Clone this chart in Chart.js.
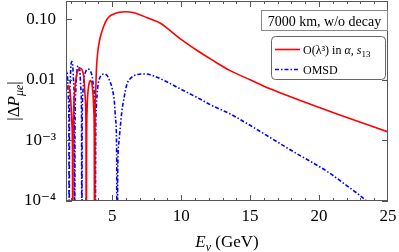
<!DOCTYPE html>
<html>
<head>
<meta charset="utf-8">
<script src="https://cdn.jsdelivr.net/npm/chart.js@4"></script>
<style>
  html, body { margin: 0; padding: 0; background: #fff; }
  canvas { display: block; }
</style>
</head>
<body>
<canvas id="myChart" width="399" height="252"></canvas>
<script>
// datos
const energyRed = [1.65, 1.7, 1.8, 1.9, 2.0, 2.08, 2.12, 2.14, 2.16, 2.2, 2.3, 2.45, 2.6, 2.7, 2.8, 2.95, 3.05, 3.1, 3.12,
  3.14, 3.18, 3.25, 3.35, 3.43, 3.52, 3.6, 3.67, 3.7, 3.72, 3.75, 3.8, 3.85, 3.92, 4.0, 4.15, 4.37, 4.6, 4.86, 5.0, 5.5,
  6.0, 6.5, 7.0, 7.5, 8.0, 8.5, 9.0, 10.0, 11.16, 12.3, 13.55, 15, 16.45, 18.5, 21.5, 25]
const valueRed = [0.006, 0.0075, 0.008, 0.0072, 0.0045, 0.0018, 0.0006, 1e-6, 0.0005, 0.0028, 0.0075, 0.0128, 0.0152, 0.0155,
  0.0148, 0.0108, 0.0048, 0.0014, 1e-6, 0.0005, 0.0032, 0.0066, 0.0092, 0.0097, 0.0088, 0.0062, 0.003, 0.001, 1e-6, 0.0015,
  0.006, 0.014, 0.024, 0.035, 0.052, 0.075, 0.098, 0.114, 0.119, 0.130, 0.133, 0.129, 0.119, 0.107, 0.0966, 0.0857, 0.0708,
  0.0465, 0.0305, 0.0209, 0.0142, 0.0100, 0.0071, 0.00468, 0.00263, 0.00138]

const energyBlue = [1.65, 1.7, 1.76, 1.82, 1.86, 1.88, 1.9, 1.94, 2.0, 2.07, 2.14, 2.2, 2.25, 2.28, 2.3, 2.35, 2.43, 2.54,
  2.65, 2.73, 2.78, 2.8, 2.82, 2.87, 2.97, 3.1, 3.26, 3.42, 3.56, 3.66, 3.73, 3.77, 3.8, 3.85, 3.95, 4.1, 4.3, 4.45, 4.65,
  4.86, 5.0, 5.15, 5.25, 5.32, 5.36, 5.4, 5.48, 5.58, 5.7, 5.82, 6.07, 6.3, 6.79, 7.39, 7.97, 8.7, 9.93, 11.16, 12.3, 13.55,
  14.78, 15.72, 18.1, 20.56, 22, 23.46, 24, 24.3, 24.6, 25]
const valueBlue = [0.012, 0.014, 0.011, 0.005, 0.0015, 1e-6, 0.0015, 0.007, 0.016, 0.02, 0.017, 0.0095, 0.003, 1e-6, 0.0012,
  0.006, 0.013, 0.017, 0.0142, 0.007, 0.002, 1e-6, 0.0015, 0.006, 0.011, 0.014, 0.015, 0.014, 0.011, 0.007, 0.003, 1e-6,
  0.0008, 0.0035, 0.0075, 0.0108, 0.0123, 0.0125, 0.0116, 0.0091, 0.0072, 0.0045, 0.0022, 0.0007, 1e-6, 0.0003, 0.0009,
  0.0016, 0.003, 0.0045, 0.0085, 0.0104, 0.0122, 0.0125, 0.0117, 0.0099, 0.0071, 0.0051, 0.0037, 0.00274, 0.0019, 0.00141,
  0.00066, 0.00031, 0.00018, 0.0001, 0.00005, 1e-6, 0.00001, 0.00003]

const seriesLabels = ["O(λ³) in α, s₁₃", "OMSD"]
const xTicks = [5, 10, 15, 20, 25]
const yTicks = [0.0001, 0.001, 0.01, 0.1]
const yTickLabels = ["10⁻⁴", "10⁻³", "0.01", "0.10"]
const boxText = "7000 km, w/o decay"

const miGraf = document.querySelector("#myChart")
const serif = "'Liberation Serif', 'DejaVu Serif', serif"

function puntos(ex, vals) {
  return ex.map((e, i) => ({ x: e, y: vals[i] }))
}

// dibuja marco, ticks interiores, titulos, recuadro y leyenda
const marco = {
  id: "marco",
  afterDraw(chart) {
    const { ctx, chartArea: a, scales } = chart
    const x = scales.x
    const y = scales.y
    ctx.save()
    ctx.strokeStyle = "#555"
    ctx.lineWidth = 1
    ctx.strokeRect(a.left + 0.5, a.top + 0.5, a.right - a.left - 1, a.bottom - a.top - 1)

    ctx.beginPath()
    for (let v = 2; v <= 24; v++) {
      const px = Math.round(x.getPixelForValue(v)) + 0.5
      const len = xTicks.includes(v) ? 6 : 3
      ctx.moveTo(px, a.bottom); ctx.lineTo(px, a.bottom - len)
      ctx.moveTo(px, a.top); ctx.lineTo(px, a.top + len)
    }
    yTicks.forEach(v => {
      const py = Math.round(y.getPixelForValue(v)) + 0.5
      ctx.moveTo(a.left, py); ctx.lineTo(a.left + 6, py)
      ctx.moveTo(a.right, py); ctx.lineTo(a.right - 6, py)
    })
    ctx.stroke()

    ctx.fillStyle = "#000"
    ctx.textBaseline = "alphabetic"

    // titulo eje x: E_nu (GeV)
    const partsX = [
      { t: "E", f: "italic 17px " + serif, dy: 0 },
      { t: "ν", f: "italic 12px " + serif, dy: 4 },
      { t: " (GeV)", f: "17px " + serif, dy: 0 }
    ]
    dibujaPartes(ctx, partsX, (a.left + a.right) / 2, 247)

    // titulo eje y: |Delta P_mue|
    ctx.save()
    ctx.translate(19, (a.top + a.bottom) / 2)
    ctx.rotate(-Math.PI / 2)
    const partsY = [
      { t: "|Δ", f: "17px " + serif, dy: 0 },
      { t: "P", f: "italic 17px " + serif, dy: 0 },
      { t: "μe", f: "italic 12px " + serif, dy: 4 },
      { t: "|", f: "17px " + serif, dy: 0 }
    ]
    dibujaPartes(ctx, partsY, 0, 0)
    ctx.restore()

    // recuadro de texto
    ctx.fillStyle = "#fff"
    ctx.fillRect(261, 10, 127, 21)
    ctx.strokeStyle = "#888"
    ctx.strokeRect(261.5, 10.5, 126, 20)
    ctx.fillStyle = "#000"
    ctx.font = "14px " + serif
    ctx.textAlign = "center"
    ctx.fillText(boxText, 324.5, 25.5)

    // leyenda
    ctx.beginPath()
    ctx.roundRect(271.5, 36.5, 114, 43, 4)
    ctx.fillStyle = "#fff"
    ctx.fill()
    ctx.strokeStyle = "#666"
    ctx.stroke()

    chart.data.datasets.forEach((ds, i) => {
      const ly = 49.5 + i * 20
      ctx.beginPath()
      ctx.strokeStyle = ds.borderColor
      ctx.lineWidth = 1.6
      ctx.setLineDash(ds.borderDash || [])
      ctx.moveTo(275, ly)
      ctx.lineTo(300, ly)
      ctx.stroke()
      ctx.setLineDash([])
    })
    ctx.fillStyle = "#000"
    const leg1 = [
      { t: "O(λ³) in ", f: "12px " + serif, dy: 0 },
      { t: "α", f: "italic 12px " + serif, dy: 0 },
      { t: ", ", f: "12px " + serif, dy: 0 },
      { t: "s", f: "italic 12px " + serif, dy: 0 },
      { t: "13", f: "9px " + serif, dy: 3 }
    ]
    dibujaPartes(ctx, leg1, 303, 53.5, true)
    ctx.font = "12px " + serif
    ctx.textAlign = "left"
    ctx.fillText(seriesLabels[1], 303, 73.5)
    ctx.restore()
  }
}

function dibujaPartes(ctx, parts, cx, by, alignLeft) {
  ctx.textAlign = "left"
  let total = 0
  parts.forEach(p => { ctx.font = p.f; total += ctx.measureText(p.t).width })
  let px = alignLeft ? cx : cx - total / 2
  parts.forEach(p => {
    ctx.font = p.f
    ctx.fillText(p.t, px, by + p.dy)
    px += ctx.measureText(p.t).width
  })
}

const config = {
  type: "scatter",
  data: {
    datasets: [
      {
        label: seriesLabels[0],
        data: puntos(energyRed, valueRed),
        showLine: true,
        borderColor: "#ff0000",
        borderWidth: 1.6,
        pointRadius: 0,
        cubicInterpolationMode: "monotone"
      },
      {
        label: seriesLabels[1],
        data: puntos(energyBlue, valueBlue),
        showLine: true,
        borderColor: "#0000ff",
        borderWidth: 1.6,
        borderDash: [4, 2, 1.5, 2],
        pointRadius: 0,
        cubicInterpolationMode: "monotone"
      }
    ]
  },
  options: {
    responsive: false,
    animation: false,
    layout: { padding: { top: 1, right: 11, left: 0, bottom: 0 } },
    plugins: { legend: { display: false }, tooltip: { enabled: false } },
    scales: {
      x: {
        type: "linear",
        min: 1.65,
        max: 25,
        afterBuildTicks: (s) => { s.ticks = xTicks.map(v => ({ value: v })) },
        afterFit: (s) => { s.height = 51; s.paddingLeft = 0; s.paddingRight = 0 },
        grid: { display: false, drawTicks: false },
        border: { display: false },
        ticks: { color: "#000", padding: 5, maxRotation: 0, font: { family: serif, size: 17 } }
      },
      y: {
        type: "logarithmic",
        min: 0.0001,
        max: 0.2,
        afterBuildTicks: (s) => { s.ticks = yTicks.map(v => ({ value: v })) },
        afterFit: (s) => { s.width = 66; s.paddingTop = 0; s.paddingBottom = 0 },
        grid: { display: false, drawTicks: false },
        border: { display: false },
        ticks: {
          color: "#000",
          padding: 10,
          font: { family: serif, size: 17 },
          callback: (v) => {
            const i = yTicks.indexOf(v)
            return i >= 0 ? yTickLabels[i] : ""
          }
        }
      }
    }
  },
  plugins: [marco]
}

new Chart(miGraf, config)
</script>
</body>
</html>
